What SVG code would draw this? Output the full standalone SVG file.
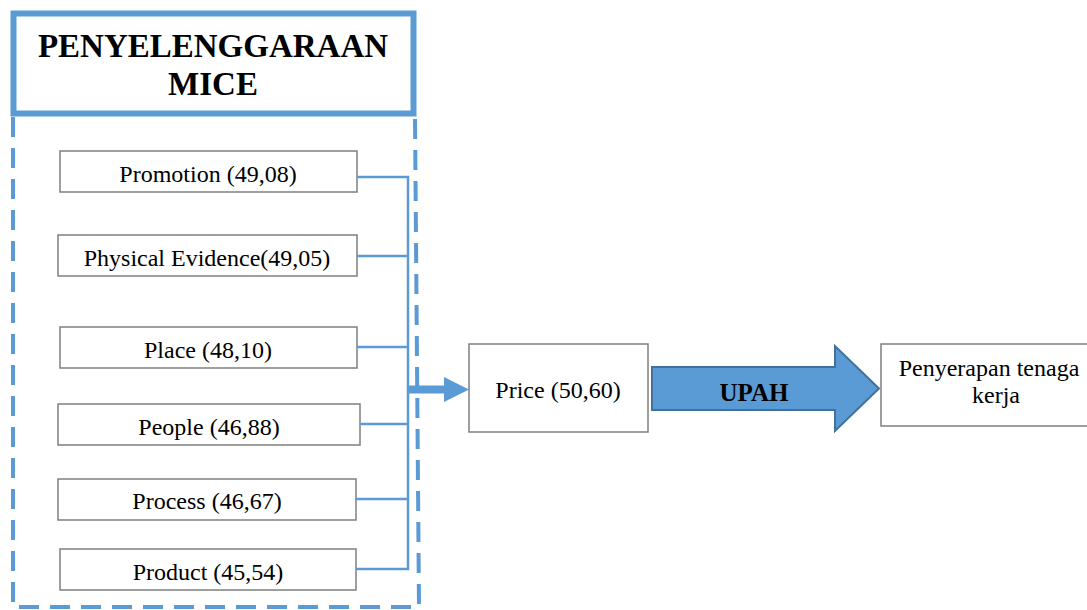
<svg xmlns="http://www.w3.org/2000/svg" width="1087" height="610" viewBox="0 0 1087 610">
  <style>
    .box { fill: #ffffff; stroke: #7f7f7f; stroke-width: 1.5; }
    .lbl { font-family: "Liberation Serif", "Times New Roman", serif; font-size: 24px; fill: #000000; text-anchor: middle; }
    .title { font-family: "Liberation Serif", "Times New Roman", serif; font-size: 33px; font-weight: bold; fill: #000000; text-anchor: middle; }
    .link { fill: none; stroke: #5b9bd5; stroke-width: 2.5; }
  </style>

  <!-- outer dashed frame -->
  <g id="frame">
    <path d="M13,117 L13,607 L419,607 L415,117" fill="none" stroke="#5b9bd5" stroke-width="4" stroke-dasharray="20,11"/>
  </g>

  <!-- title block -->
  <g id="title">
    <rect x="13.5" y="13.5" width="400" height="100" fill="#ffffff" stroke="#5b9bd5" stroke-width="6"/>
    <text class="title" x="213" y="57">PENYELENGGARAAN</text>
    <text class="title" x="213" y="95">MICE</text>
  </g>

  <!-- marketing mix factors -->
  <g id="promotion">
    <rect class="box" x="60" y="151" width="297" height="41"/>
    <text class="lbl" x="208" y="182">Promotion (49,08)</text>
  </g>
  <g id="physical-evidence">
    <rect class="box" x="58" y="235" width="299" height="41"/>
    <text class="lbl" x="207" y="266">Physical Evidence(49,05)</text>
  </g>
  <g id="place">
    <rect class="box" x="60" y="327" width="297" height="41"/>
    <text class="lbl" x="208" y="358">Place (48,10)</text>
  </g>
  <g id="people">
    <rect class="box" x="58" y="404" width="302" height="41"/>
    <text class="lbl" x="209" y="435">People (46,88)</text>
  </g>
  <g id="process">
    <rect class="box" x="58" y="479" width="298" height="41"/>
    <text class="lbl" x="207" y="509">Process (46,67)</text>
  </g>
  <g id="product">
    <rect class="box" x="60" y="549" width="296" height="41"/>
    <text class="lbl" x="208" y="580">Product (45,54)</text>
  </g>

  <!-- connectors -->
  <g id="connectors">
    <path class="link" d="M357,177 L408,177 L408,569 L356,569"/>
    <path class="link" d="M357,256 L408,256"/>
    <path class="link" d="M357,347 L408,347"/>
    <path class="link" d="M360,424 L408,424"/>
    <path class="link" d="M356,499 L408,499"/>
    <path d="M407,385.5 L444,385.5 L444,377 L469,389.5 L444,402 L444,393.5 L407,393.5 Z" fill="#5b9bd5"/>
  </g>

  <!-- price -->
  <g id="price">
    <rect class="box" x="469" y="344" width="179" height="88"/>
    <text class="lbl" x="558" y="398">Price (50,60)</text>
  </g>

  <!-- wage block arrow -->
  <g id="upah">
    <path d="M652,367 L835,367 L835,346 L879,388.5 L835,431 L835,410 L652,410 Z" fill="#5b9bd5" stroke="#41719c" stroke-width="2"/>
    <text x="754" y="401" font-family="Liberation Serif, Times New Roman, serif" font-size="25" font-weight="bold" text-anchor="middle" fill="#000000">UPAH</text>
  </g>

  <!-- labour absorption -->
  <g id="penyerapan">
    <rect class="box" x="881" y="344" width="215" height="82"/>
    <text class="lbl" x="989" y="376">Penyerapan tenaga</text>
    <text class="lbl" x="996" y="403">kerja</text>
  </g>
</svg>
